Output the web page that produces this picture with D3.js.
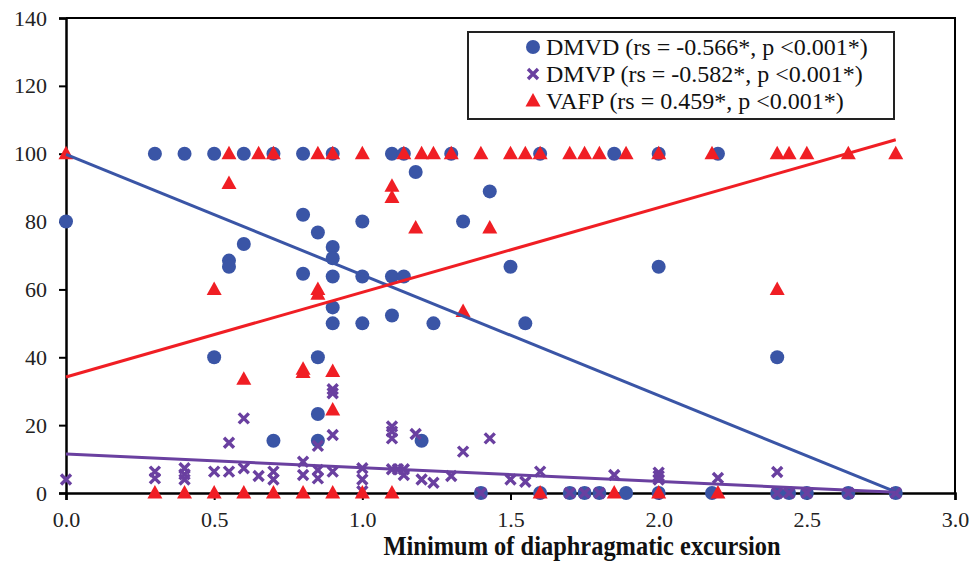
<!DOCTYPE html>
<html>
<head>
<meta charset="utf-8">
<script src="https://cdn.jsdelivr.net/npm/d3@7"></script>
<style>
  body { margin: 0; background: #fff; }
  svg { display: block; }
</style>
</head>
<body>
<svg width="973" height="562"></svg>
<script>
// DMVD - blue circles
const dmvdX = [0, 0.3, 0.4, 0.5, 0.6, 0.7, 0.8, 0.9, 1.1, 1.14, 1.3, 1.6, 1.85, 2.0, 2.2,
  0.8, 0.85, 1.0, 0.6, 0.55, 0.55, 0.9, 0.9, 0.8, 0.9, 1.0, 0.9, 0.9, 1.0, 0.5, 0.85, 0.85, 0.7, 0.85,
  1.18, 1.43, 1.34, 1.1, 1.14, 1.5, 2.0, 1.1, 1.24, 1.55, 1.2, 2.4,
  1.4, 1.6, 1.7, 1.75, 1.8, 1.89, 2.0, 2.18, 2.4, 2.44, 2.5, 2.64, 2.8];
const dmvdY = [80, 100, 100, 100, 100, 100, 100, 100, 100, 100, 100, 100, 100, 100, 100,
  82, 76.8, 80, 73.4, 68.5, 66.7, 72.5, 69.2, 64.6, 63.8, 63.8, 54.7, 50, 50, 40, 40, 23.3, 15.4, 15.4,
  94.6, 88.9, 80, 63.8, 63.8, 66.7, 66.7, 52.3, 50, 50, 15.4, 40,
  0, 0, 0, 0, 0, 0, 0, 0, 0, 0, 0, 0, 0];

// DMVP - purple crosses
const dmvpX = [0, 0.3, 0.3, 0.4, 0.4, 0.4, 0.5, 0.55, 0.55, 0.6, 0.6, 0.65, 0.7, 0.7, 0.8, 0.8,
  0.85, 0.85, 0.85, 0.9, 0.9, 0.9, 0.9, 1.0, 1.0, 1.0,
  1.1, 1.1, 1.1, 1.18, 1.43, 1.34, 1.1, 1.12, 1.14, 1.14, 1.2, 1.24, 1.3, 1.5, 1.55, 1.6, 1.85,
  2.0, 2.0, 2.0, 2.2, 2.4,
  1.4, 1.7, 1.75, 1.8, 2.4, 2.44, 2.5, 2.64, 2.8];
const dmvpY = [4, 6.3, 4.3, 7.3, 5.5, 4, 6.3, 6.3, 14.8, 22, 7.3, 5, 6.3, 4, 9.2, 5.3,
  13.9, 6.8, 4.3, 30.6, 29.4, 17.1, 6.3, 7.3, 4, 0.5,
  19.6, 18.1, 16.1, 17.4, 16.1, 12.2, 7, 7, 7, 5.3, 4, 3, 5, 4, 3.3, 6.3, 5.3,
  6, 5, 4, 4.4, 6.2,
  0, 0, 0, 0, 0, 0, 0, 0, 0];

// VAFP - red triangles
const vafpX = [0, 0.55, 0.65, 0.7, 0.85, 0.9, 1.0, 1.14, 1.2, 1.24, 1.3, 1.4, 1.5, 1.55, 1.6, 1.7,
  1.75, 1.8, 1.89, 2.0, 2.18, 2.4, 2.44, 2.5, 2.64, 2.8,
  0.55, 0.5, 0.85, 0.85, 0.6, 0.8, 0.8, 0.9, 0.9, 1.1, 1.1, 1.18, 1.43, 1.34, 2.4,
  0.3, 0.4, 0.5, 0.6, 0.7, 0.8, 0.9, 1.0, 1.1, 1.6, 1.85, 2.0, 2.2];
const vafpY = [100, 100, 100, 100, 100, 100, 100, 100, 100, 100, 100, 100, 100, 100, 100, 100,
  100, 100, 100, 100, 100, 100, 100, 100, 100, 100,
  91.2, 60, 60, 58.6, 33.5, 36.5, 35.5, 35.8, 24.5, 90.4, 87.1, 78.1, 78.1, 53.5, 60,
  0, 0, 0, 0, 0, 0, 0, 0, 0, 0, 0, 0, 0];

// linear trend lines (end values)
const trendX = [0, 2.8];
const dmvdTrend = [99.8, 0.3];
const dmvpTrend = [11.5, 0.2];
const vafpTrend = [34.2, 104.1];

const xTicks = [0, 0.5, 1.0, 1.5, 2.0, 2.5, 3.0];
const yTicks = [0, 20, 40, 60, 80, 100, 120, 140];
const legendLabels = [
  "DMVD (rs = -0.566*, p <0.001*)",
  "DMVP (rs = -0.582*, p <0.001*)",
  "VAFP (rs = 0.459*, p <0.001*)",
];

const blue = "#3a55a6", purple = "#6a40a0", red = "#f01e24";
const font = "'Liberation Serif', 'Times New Roman', serif";

const svg = d3.select("svg");
const plotL = 66, plotR = 955, plotT = 18, plotB = 493;

const x = d3.scaleLinear().domain([0, 3]).range([plotL, plotR]);
const y = d3.scaleLinear().domain([0, 140]).range([plotB, plotT]);

// plot area border (top + right)
svg.append("path")
  .attr("d", `M${plotL},${plotT}H${plotR}V${plotB}`)
  .attr("fill", "none")
  .attr("stroke", "#000")
  .attr("stroke-width", 2);

const yAxis = svg.append("g")
  .attr("transform", `translate(${plotL},0)`)
  .call(d3.axisLeft(y).tickValues(yTicks).tickSize(7).tickPadding(12).tickFormat(d3.format("d")));

const xAxis = svg.append("g")
  .attr("transform", `translate(0,${plotB})`)
  .call(d3.axisBottom(x).tickValues(xTicks).tickSize(7).tickPadding(11).tickFormat(d3.format(".1f")));

[yAxis, xAxis].forEach((a) => {
  a.select(".domain").attr("stroke", "#000").attr("stroke-width", 2.5);
  a.selectAll(".tick line").attr("stroke", "#000").attr("stroke-width", 2);
  a.selectAll("text").attr("font-family", font).attr("font-size", 22).attr("fill", "#222");
});

svg.append("text")
  .attr("x", 582)
  .attr("y", 555)
  .attr("text-anchor", "middle")
  .attr("font-family", font)
  .attr("font-weight", "bold")
  .attr("font-size", 28)
  .attr("textLength", 397)
  .attr("lengthAdjust", "spacingAndGlyphs")
  .attr("fill", "#111")
  .text("Minimum of diaphragmatic excursion");

const markers = svg.append("g");

const circle = (g) => g.append("circle").attr("r", 7).attr("fill", blue);
const cross = (g) => g.append("path").attr("d", "M-5,-5L5,5M-5,5L5,-5")
  .attr("stroke", purple).attr("stroke-width", 3.4).attr("fill", "none");
const tri = (g) => g.append("path").attr("d", "M0,-8L7.5,5.5L-7.5,5.5Z").attr("fill", red);

function drawSeries(xs, ys, shape) {
  xs.forEach((v, i) => {
    const g = markers.append("g").attr("transform", `translate(${x(v)},${y(ys[i])})`);
    shape(g);
  });
}

drawSeries(dmvdX, dmvdY, circle);
drawSeries(dmvpX, dmvpY, cross);
drawSeries(vafpX, vafpY, tri);

// trend lines on top
const line = d3.line().x((d) => x(d[0])).y((d) => y(d[1]));
[[dmvdTrend, blue], [dmvpTrend, purple], [vafpTrend, red]].forEach(([t, c]) => {
  svg.append("path")
    .datum(trendX.map((v, i) => [v, t[i]]))
    .attr("d", line)
    .attr("fill", "none")
    .attr("stroke", c)
    .attr("stroke-width", 3);
});

// legend
const legend = svg.append("g");
legend.append("rect")
  .attr("x", 468).attr("y", 32).attr("width", 426).attr("height", 87)
  .attr("fill", "#fff").attr("stroke", "#222").attr("stroke-width", 2);

const shapes = [circle, cross, tri];
legendLabels.forEach((lab, i) => {
  const ly = 47 + i * 27;
  const g = legend.append("g").attr("transform", `translate(533,${ly})`);
  shapes[i](g);
  legend.append("text")
    .attr("x", 546).attr("y", ly)
    .attr("dy", "0.35em")
    .attr("font-family", font)
    .attr("font-size", 24)
    .attr("fill", "#111")
    .text(lab);
});
</script>
</body>
</html>
